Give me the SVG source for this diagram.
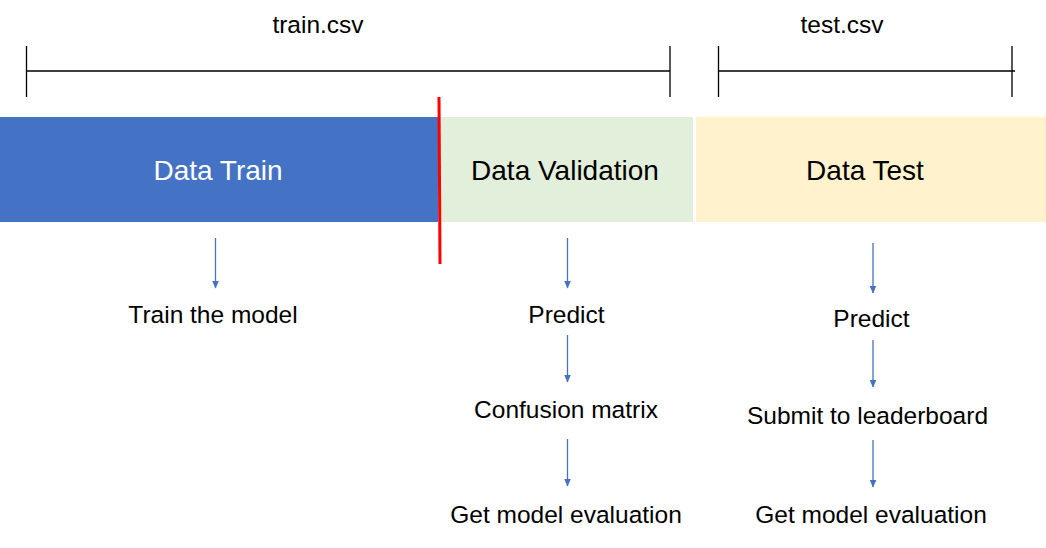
<svg xmlns="http://www.w3.org/2000/svg" width="1046" height="548" viewBox="0 0 1046 548">
<style>
text{font-family:"Liberation Sans",Arial,sans-serif;fill:#000;text-anchor:middle}
.lbl{font-size:24.5px}
.box{font-size:28px}
.br{stroke:#000;stroke-width:1.3;fill:none}
.arr{stroke:#4472C4;stroke-width:1.3;fill:none;marker-end:url(#ah)}
</style>
<defs>
<marker id="ah" viewBox="0 0 8 8" refX="7.5" refY="4" markerWidth="8" markerHeight="8" markerUnits="userSpaceOnUse" orient="auto">
<path d="M0,0.5 L8,4 L0,7.5 Z" fill="#4472C4"/>
</marker>
</defs>
<rect width="1046" height="548" fill="#fff"/>
<g id="train-csv">
<path class="br" d="M26.5,46V97M26.5,71H670M670,46V97"/>
<text class="lbl" x="318" y="33">train.csv</text>
</g>
<g id="test-csv">
<path class="br" d="M718.5,46V97M718.5,71H1015M1012,46V97"/>
<text class="lbl" x="842" y="33">test.csv</text>
</g>
<g id="data-train">
<rect x="0" y="117" width="438" height="105" fill="#4472C4"/>
<text class="box" x="218" y="180" style="fill:#fff">Data Train</text>
</g>
<g id="data-validation">
<rect x="438" y="117" width="255" height="105" fill="#E2EFDA"/>
<text class="box" x="565" y="180">Data Validation</text>
</g>
<g id="data-test">
<rect x="696" y="117" width="350" height="105" fill="#FFF2CC"/>
<text class="box" x="865" y="180">Data Test</text>
</g>
<g id="split-line">
<line x1="439" y1="97" x2="440" y2="264" stroke="#FF0000" stroke-width="3"/>
</g>
<g id="train-model"><text class="lbl" x="213" y="323">Train the model</text></g>
<g id="val-predict"><text class="lbl" x="566.5" y="323">Predict</text></g>
<g id="val-confusion"><text class="lbl" x="566" y="418">Confusion matrix</text></g>
<g id="val-eval"><text class="lbl" x="566" y="523">Get model evaluation</text></g>
<g id="test-predict"><text class="lbl" x="871.5" y="327">Predict</text></g>
<g id="test-submit"><text class="lbl" x="867.5" y="424">Submit to leaderboard</text></g>
<g id="test-eval"><text class="lbl" x="871" y="523">Get model evaluation</text></g>
<g id="connectors">
<line class="arr" x1="215.5" y1="238" x2="215.5" y2="288"/>
<line class="arr" x1="567.5" y1="238" x2="567.5" y2="288"/>
<line class="arr" x1="567.5" y1="335" x2="567.5" y2="382"/>
<line class="arr" x1="567.5" y1="439" x2="567.5" y2="486"/>
<line class="arr" x1="873" y1="243" x2="873" y2="293"/>
<line class="arr" x1="873" y1="340" x2="873" y2="387"/>
<line class="arr" x1="873" y1="440" x2="873" y2="487"/>
</g>
</svg>
